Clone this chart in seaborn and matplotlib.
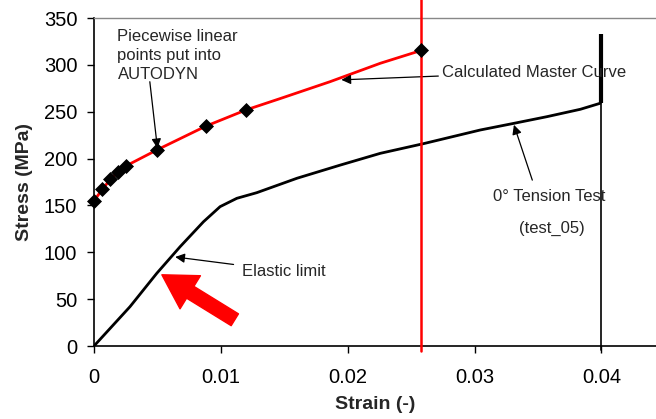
import matplotlib
matplotlib.use("Agg")
import matplotlib.pyplot as plt
import seaborn as sns
import pandas as pd

sns.set_theme(style="white")
plt.rcParams['font.family'] = ['Liberation Sans', 'DejaVu Sans']

# Tension test curve (test_05)
test_strain = [0.0, 0.00284, 0.00495, 0.00679, 0.00863, 0.00994, 0.01126, 0.01283,
               0.0160, 0.0194, 0.02257, 0.0260, 0.03045, 0.0331, 0.0357, 0.03834, 0.0399]
test_stress = [0, 42, 77.6, 106, 132.6, 148.7, 157.6, 163.6,
               179, 193, 205.6, 216, 230.5, 237.6, 244.7, 252.6, 259]

# Calculated master curve (red)
master_strain = [0.0, 0.00065, 0.0013, 0.0019, 0.0025, 0.0050, 0.0088, 0.0120,
                 0.01467, 0.0186, 0.02257, 0.0257]
master_stress = [155, 167, 178, 186, 192, 209.5, 234.5, 252,
                 264, 282, 301.7, 315]

# Piecewise linear points put into AUTODYN
pts_strain = [0.0, 0.00065, 0.0013, 0.0019, 0.0025, 0.0050, 0.0088, 0.0120, 0.0258]
pts_stress = [155, 167, 178, 186, 192, 209.5, 234.5, 252, 316]

red_limit_strain = 0.0258
test_end_strain = 0.04
test_end_stress = 259
test_top_stress = 333

x_ticks = [0, 0.01, 0.02, 0.03, 0.04]
x_ticklabels = ["0", "0.01", "0.02", "0.03", "0.04"]
y_ticks = [0, 50, 100, 150, 200, 250, 300, 350]

fig = plt.figure(figsize=(6.56, 4.19), dpi=100)
ax = fig.add_axes([94/656, 73/419, 1 - 94/656, (346-18)/419])

df_test = pd.DataFrame({"strain": test_strain, "stress": test_stress})
df_master = pd.DataFrame({"strain": master_strain, "stress": master_stress})
df_pts = pd.DataFrame({"strain": pts_strain, "stress": pts_stress})

sns.lineplot(data=df_test, x="strain", y="stress", sort=False, color="black", lw=2, ax=ax)
sns.lineplot(data=df_master, x="strain", y="stress", sort=False, color="red", lw=2, ax=ax)
sns.scatterplot(data=df_pts, x="strain", y="stress", marker="D", s=50, color="black",
                edgecolor="black", zorder=5, ax=ax, clip_on=False)

# vertical lines
ax.plot([red_limit_strain, red_limit_strain], [-5, 375], color="red", lw=1.8, clip_on=False, zorder=4)
ax.plot([test_end_strain, test_end_strain], [-4, test_end_stress], color="black", lw=1.2, clip_on=False)
ax.plot([test_end_strain, test_end_strain], [test_end_stress, test_top_stress], color="black", lw=3,
        solid_capstyle="butt")

ax.set_xlim(0, 0.0443)
ax.set_ylim(0, 350)
ax.set_xticks(x_ticks)
ax.set_xticklabels(x_ticklabels)
ax.set_yticks(y_ticks)

ax.spines["right"].set_visible(False)
ax.spines["top"].set_color("#888888")
ax.spines["top"].set_linewidth(1.0)
for s in ["left", "bottom"]:
    ax.spines[s].set_color("black")
    ax.spines[s].set_linewidth(1.2)

ax.tick_params(axis="both", which="major", direction="out", length=5, width=1, color="black",
               labelsize=14.5, labelcolor="black", bottom=True, left=True)
ax.tick_params(axis="x", pad=11)
ax.tick_params(axis="y", pad=7)

ax.set_xlabel("Strain (-)", fontsize=14, fontweight="bold", labelpad=6)
ax.set_ylabel("Stress (MPa)", fontsize=14, fontweight="bold", labelpad=8)

arrow_kw = dict(arrowstyle="-|>", color="black", lw=0.9, mutation_scale=14, shrinkA=0, shrinkB=0)
ax.text(0.00185, 310, "Piecewise linear\npoints put into\nAUTODYN",
        fontsize=12, ha="left", va="center", linespacing=1.3)
ax.annotate("", xy=(0.0050, 211), xytext=(0.0044, 282), arrowprops=arrow_kw)

ax.annotate("Calculated Master Curve", xy=(0.0195, 284), xytext=(0.0274, 292),
            fontsize=12, ha="left", va="center", arrowprops=arrow_kw)
ax.annotate("", xy=(0.0331, 236), xytext=(0.03455, 177), arrowprops=arrow_kw)
ax.text(0.0359, 159, "0° Tension Test", fontsize=12, ha="center", va="center")
ax.text(0.0361, 125, "(test_05)", fontsize=12, ha="center", va="center")
ax.text(0.0117, 80, "Elastic limit", fontsize=12, ha="left", va="center")
ax.annotate("", xy=(0.0064, 95), xytext=(0.0110, 87), arrowprops=arrow_kw)

ax.annotate("", xy=(0.00535, 76), xytext=(0.0111, 28),
            arrowprops=dict(arrowstyle="simple,head_length=1.2,head_width=1.4,tail_width=0.5",
                            color="red", mutation_scale=20, shrinkA=0, shrinkB=0))

fig.savefig("out.png", dpi=100)
